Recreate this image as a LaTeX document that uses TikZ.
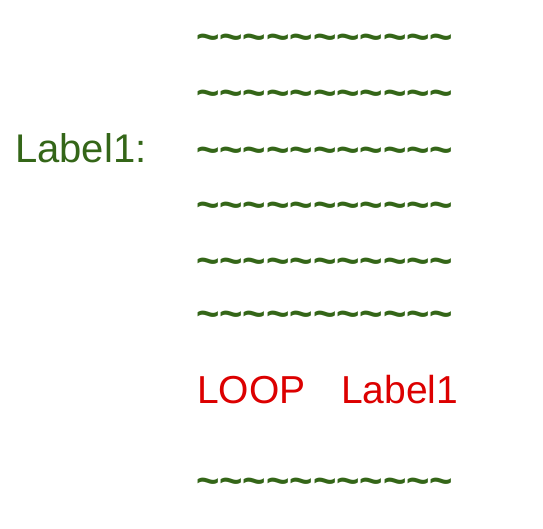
\documentclass[tikz,border=0pt]{standalone}
\usepackage{fontspec}
\setmainfont{Liberation Sans}
\definecolor{stmtgreen}{RGB}{52,102,24}
\definecolor{loopred}{RGB}{220,0,0}
\newcommand\wavyrow{\textasciitilde\textasciitilde\textasciitilde\textasciitilde\textasciitilde\textasciitilde\textasciitilde\textasciitilde\textasciitilde\textasciitilde\textasciitilde}
\begin{document}
\begin{tikzpicture}[x=1pt,y=1pt,
  lbl/.style={anchor=base west,inner sep=0pt,text=stmtgreen,font=\fontsize{40}{40}\selectfont},
  stmt/.style={anchor=base west,inner sep=0pt,text=stmtgreen,font=\fontsize{40}{40}\selectfont\bfseries},
  jump/.style={anchor=base west,inner sep=0pt,text=loopred,font=\fontsize{39}{39}\selectfont}]
\useasboundingbox (0,0) rectangle (543,528);
% label of the loop body
\node[lbl] (lbl) at (15,365) {Label1:};
% statements in the loop body
\node[stmt] (s1) at (196,477) {\wavyrow};
\node[stmt] (s2) at (196,421) {\wavyrow};
\node[stmt] (s3) at (196,364) {\wavyrow};
\node[stmt] (s4) at (196,309) {\wavyrow};
\node[stmt] (s5) at (196,254) {\wavyrow};
\node[stmt] (s6) at (196,201) {\wavyrow};
% the jump back
\node[jump] (loop) at (197,125) {LOOP};
\node[jump] (target) at (341,125) {Label1};
% statement after the loop
\node[stmt] (s7) at (196,34) {\wavyrow};
\end{tikzpicture}
\end{document}
